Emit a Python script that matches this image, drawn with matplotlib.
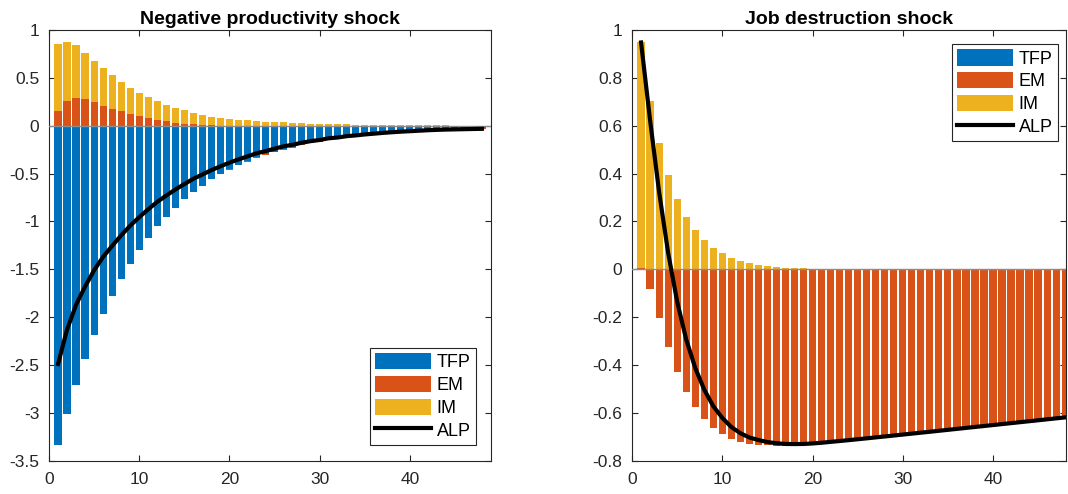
import numpy as np
import matplotlib.pyplot as plt
from matplotlib.ticker import FuncFormatter

plt.rcParams['font.family'] = ['Liberation Sans', 'DejaVu Sans']
plt.rcParams['axes.unicode_minus'] = False

periods = np.arange(1, 49)

# Negative productivity shock: contributions to ALP
tfp_prod = [-3.34, -3.01, -2.71, -2.44, -2.19, -1.97, -1.78, -1.60, -1.44, -1.30,
            -1.17, -1.05, -0.95, -0.855, -0.77, -0.69, -0.625, -0.56, -0.505, -0.455,
            -0.41, -0.37, -0.33, -0.30, -0.27, -0.24, -0.22, -0.195, -0.175, -0.16,
            -0.14, -0.13, -0.115, -0.105, -0.093, -0.084, -0.076, -0.068, -0.061, -0.055,
            -0.050, -0.045, -0.040, -0.037, -0.034, -0.032, -0.030, -0.028]
em_prod = [0.15, 0.26, 0.29, 0.28, 0.25, 0.21, 0.18, 0.15, 0.12, 0.10,
           0.077, 0.06, 0.045, 0.033, 0.022, 0.014, 0.008, 0.003, -0.001, -0.003,
           -0.005, -0.006, -0.007, -0.008, -0.008, -0.009, -0.009, -0.009, -0.009, -0.009,
           -0.009, -0.009, -0.008, -0.008, -0.008, -0.008, -0.007, -0.007, -0.007, -0.007,
           -0.006, -0.006, -0.006, -0.006, -0.006, -0.006, -0.006, -0.006]
im_prod = [0.70, 0.62, 0.55, 0.48, 0.43, 0.39, 0.345, 0.305, 0.275, 0.245,
           0.22, 0.195, 0.175, 0.155, 0.138, 0.122, 0.107, 0.093, 0.082, 0.072,
           0.063, 0.056, 0.049, 0.043, 0.038, 0.034, 0.030, 0.026, 0.023, 0.020,
           0.018, 0.016, 0.014, 0.012, 0.010, 0.009, 0.008, 0.007, 0.006, 0.005,
           0.004, 0.004, 0.003, 0.003, 0.002, 0.002, 0.002, 0.002]

# Job destruction shock
tfp_jd = [0.0] * 48
em_jd = [0.005, -0.082, -0.204, -0.325, -0.429, -0.513, -0.576, -0.626, -0.663, -0.689,
         -0.708, -0.721, -0.729, -0.733, -0.736, -0.737, -0.737, -0.736, -0.734, -0.731,
         -0.727, -0.723, -0.719, -0.715, -0.711, -0.707, -0.703, -0.699, -0.695, -0.691,
         -0.687, -0.683, -0.679, -0.675, -0.671, -0.667, -0.663, -0.659, -0.655, -0.651,
         -0.647, -0.643, -0.639, -0.635, -0.631, -0.627, -0.623, -0.619]
im_jd = [0.943, 0.705, 0.527, 0.394, 0.294, 0.220, 0.164, 0.123, 0.091, 0.068,
         0.049, 0.036, 0.026, 0.0195, 0.014, 0.010, 0.007, 0.0056, 0.004, 0.003,
         0.002, 0.0017, 0.0012, 0.0009, 0.0007, 0.0005, 0.0004, 0.0003, 0.0002, 0.0002,
         0.0001, 0.0001, 0.0, 0.0, 0.0, 0.0, 0.0, 0.0, 0.0, 0.0,
         0.0, 0.0, 0.0, 0.0, 0.0, 0.0, 0.0, 0.0]

labels = ['TFP', 'EM', 'IM']
colors = ['#0072BD', '#D95319', '#EDB120']
axis_col = '#262626'


def stacked_panel(ax, comps, title, xmax, ylim, yticks, legend_loc, legend_anchor):
    comps = [np.array(c) for c in comps]
    pos_bottom = np.zeros(len(periods))
    neg_bottom = np.zeros(len(periods))
    handles = []
    for vals, lab, col in zip(comps, labels, colors):
        bottom = np.where(vals >= 0, pos_bottom, neg_bottom)
        h = ax.bar(periods, vals, 0.8, bottom=bottom, color=col, edgecolor='none',
                   label=lab, zorder=2)
        handles.append(h)
        pos_bottom = pos_bottom + np.where(vals >= 0, vals, 0)
        neg_bottom = neg_bottom + np.where(vals < 0, vals, 0)
    # ALP is the sum of the three contributions
    alp = comps[0] + comps[1] + comps[2]
    ax.axhline(0, color='#8c8c8c', lw=1, zorder=3)
    line, = ax.plot(periods, alp, color='black', lw=3, label='ALP', zorder=4)
    handles.append(line)

    ax.set_xlim(0, xmax)
    ax.set_ylim(*ylim)
    ax.set_xticks([0, 10, 20, 30, 40])
    ax.set_yticks(yticks)
    ax.yaxis.set_major_formatter(FuncFormatter(lambda v, p: '%g' % (round(v, 2) + 0.0)))
    ax.tick_params(direction='in', top=True, right=True, length=4, width=0.8,
                   labelsize=12.5, colors=axis_col, labelcolor='#262626')
    ax.tick_params(axis='y', pad=7)
    ax.tick_params(axis='x', pad=8)
    for s in ax.spines.values():
        s.set_color(axis_col)
        s.set_linewidth(0.8)
    ax.set_title(title, fontsize=14, fontweight='bold', pad=4)
    leg = ax.legend(handles=handles, loc=legend_loc, bbox_to_anchor=legend_anchor,
                    fontsize=13, fancybox=False, framealpha=1, edgecolor=axis_col,
                    handlelength=3.1, handleheight=1.0, handletextpad=0.3,
                    labelspacing=0.25, borderpad=0.3, borderaxespad=0)
    leg.get_frame().set_linewidth(0.8)


fig = plt.figure(figsize=(10.68, 4.94), dpi=100)
ax1 = fig.add_axes([0.0459, 0.0674, 0.4138, 0.8718])
ax2 = fig.add_axes([0.5918, 0.0674, 0.4064, 0.8718])

stacked_panel(ax1, [tfp_prod, em_prod, im_prod], 'Negative productivity shock', 49,
              (-3.5, 1), np.arange(-3.5, 1.01, 0.5), 'lower right', (0.966, 0.0365))
stacked_panel(ax2, [tfp_jd, em_jd, im_jd], 'Job destruction shock', 48.1,
              (-0.8, 1), np.arange(-0.8, 1.01, 0.2), 'upper right', (0.9816, 0.9675))

fig.savefig('out.png', dpi=100)
